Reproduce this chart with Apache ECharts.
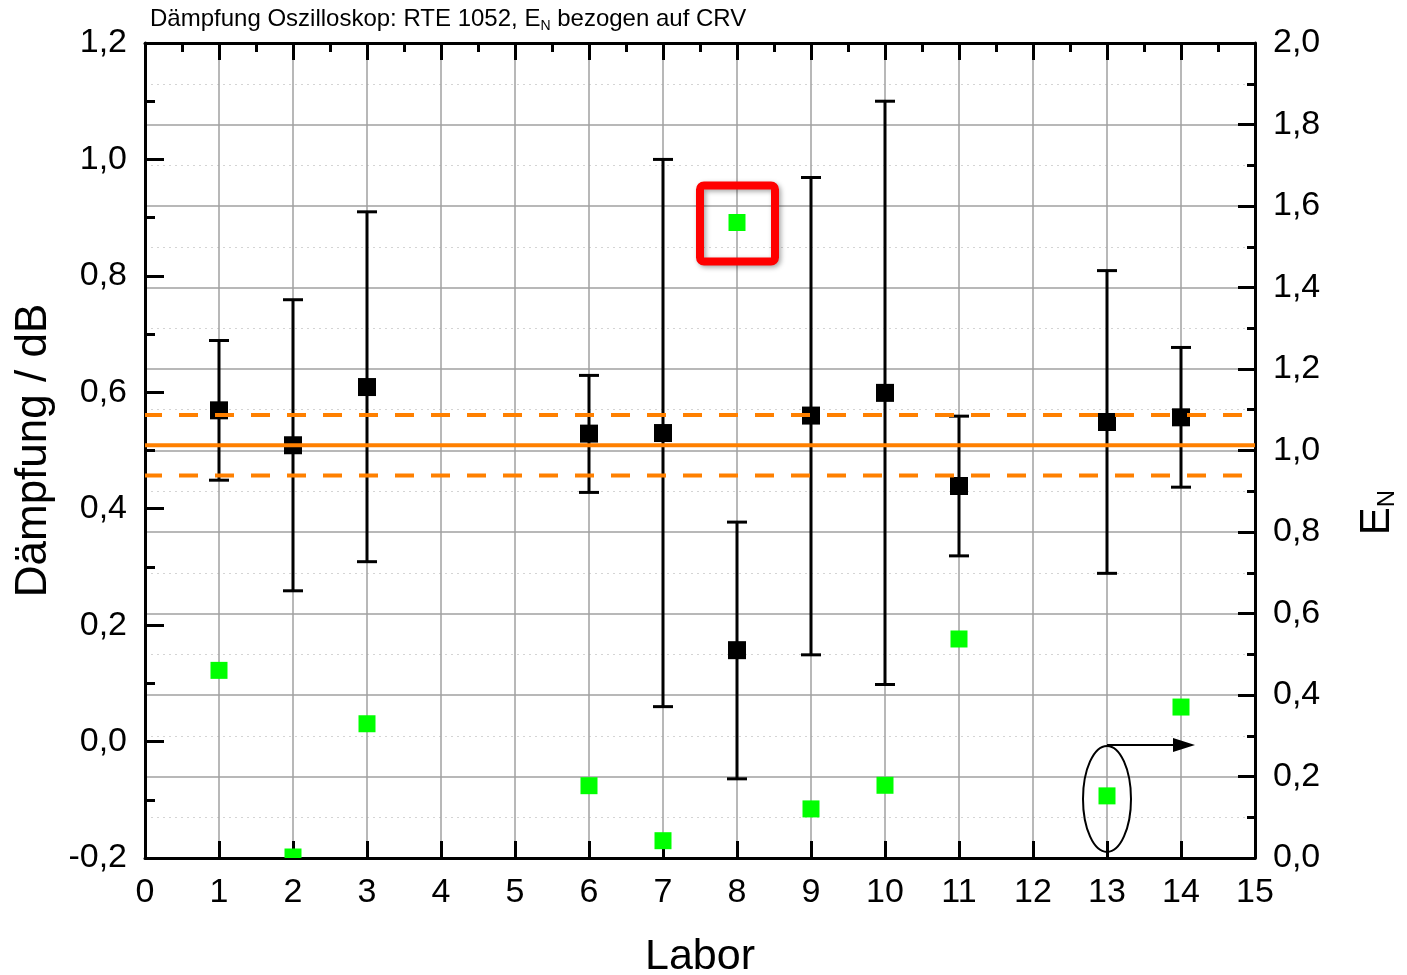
<!DOCTYPE html>
<html>
<head>
<meta charset="utf-8">
<script src="https://cdn.jsdelivr.net/npm/echarts@6/dist/echarts.min.js"></script>
<style>
    html, body { margin: 0; padding: 0; background: #fff; }
    #chart { width: 1407px; height: 975px; }
</style>
</head>
<body>
<div id="chart"></div>
<script>
    // Labore und Messwerte (Dämpfung in dB, linke Achse)
    const labs = [1, 2, 3, 6, 7, 8, 9, 10, 11, 13, 14];
    const daempfung = [0.569, 0.509, 0.609, 0.529, 0.53, 0.157, 0.56, 0.599, 0.439, 0.549, 0.557];
    const errLow = [0.449, 0.259, 0.309, 0.428, 0.06, -0.064, 0.149, 0.098, 0.319, 0.289, 0.437];
    const errHigh = [0.689, 0.759, 0.91, 0.629, 1.0, 0.377, 0.969, 1.10, 0.559, 0.809, 0.677];
    // E_N Werte (rechte Achse)
    const enValues = [0.458, 0.0, 0.327, 0.175, 0.04, 1.557, 0.118, 0.176, 0.535, 0.15, 0.368];
    // Referenzwert CRV und Unsicherheit
    const refValue = 0.509;
    const refLow = 0.457;
    const refHigh = 0.561;
    const refX = [0, 15];
    const xTicks = [0, 15, 1];
    const leftTicks = [-0.2, 1.2, 0.2];
    const rightTicks = [0, 2.0, 0.2];

    const FONT = 'Liberation Sans, Arial, sans-serif';
    const fmt = function (v) { return v.toFixed(1).replace('.', ','); };

    const chart = echarts.init(document.getElementById('chart'), null, { renderer: 'canvas' });

    const pointData = labs.map(function (l, i) { return [l, daempfung[i]]; });
    const errData = labs.map(function (l, i) { return [l, errLow[i], errHigh[i]]; });
    const enData = labs.map(function (l, i) { return [l, enValues[i]]; });

    const option = {
        backgroundColor: '#fff',
        animation: false,
        title: {
            text: 'Dämpfung Oszilloskop: RTE 1052, E{sub|N} bezogen auf CRV',
            left: 150,
            top: 5,
            padding: 0,
            textStyle: {
                fontFamily: FONT,
                fontSize: 24,
                fontWeight: 'normal',
                color: '#000',
                lineHeight: 28,
                rich: {
                    sub: { fontFamily: FONT, fontSize: 14, color: '#000', lineHeight: 15, verticalAlign: 'bottom' }
                }
            }
        },
        grid: {
            left: 145,
            right: 152,
            top: 43,
            bottom: 117,
            outerBoundsMode: 'none'
        },
        xAxis: [
            {
                type: 'value',
                position: 'bottom',
                min: xTicks[0],
                max: xTicks[1],
                interval: xTicks[2],
                name: 'Labor',
                nameLocation: 'middle',
                nameGap: 78,
                nameTextStyle: { fontFamily: FONT, fontSize: 43, color: '#000' },
                axisLine: { show: true, onZero: false, lineStyle: { color: '#000', width: 3 } },
                axisTick: { show: true, inside: true, length: 17, lineStyle: { color: '#000', width: 3 } },
                axisLabel: { show: true, margin: 18, fontFamily: FONT, fontSize: 34, color: '#000', formatter: function (v) { return String(v); } },
                splitLine: { show: true, lineStyle: { color: '#a0a0a0', width: 1.5 } }
            },
            {
                type: 'value',
                position: 'top',
                min: xTicks[0],
                max: xTicks[1],
                interval: xTicks[2],
                axisLine: { show: true, onZero: false, lineStyle: { color: '#000', width: 3 } },
                axisTick: { show: true, inside: true, length: 17, lineStyle: { color: '#000', width: 3 } },
                minorTick: { show: true, splitNumber: 2, length: 9, lineStyle: { color: '#000', width: 3 } },
                axisLabel: { show: false },
                splitLine: { show: false }
            }
        ],
        yAxis: [
            {
                type: 'value',
                position: 'left',
                min: leftTicks[0],
                max: leftTicks[1],
                interval: leftTicks[2],
                name: 'Dämpfung / dB',
                nameLocation: 'middle',
                nameRotate: 90,
                nameGap: 89,
                nameTextStyle: { fontFamily: FONT, fontSize: 44, color: '#000' },
                axisLine: { show: true, onZero: false, lineStyle: { color: '#000', width: 3 } },
                axisTick: { show: true, inside: true, length: 19, lineStyle: { color: '#000', width: 3 } },
                minorTick: { show: true, splitNumber: 2, length: 10, lineStyle: { color: '#000', width: 3 } },
                axisLabel: { show: true, margin: 18, fontFamily: FONT, fontSize: 34, color: '#000', formatter: fmt },
                splitLine: { show: false }
            },
            {
                type: 'value',
                position: 'right',
                min: rightTicks[0],
                max: rightTicks[1],
                interval: rightTicks[2],
                name: '{e|E}{n|N}',
                nameLocation: 'middle',
                nameRotate: 90,
                nameGap: 100,
                nameTextStyle: {
                    fontFamily: FONT,
                    fontSize: 42,
                    color: '#000',
                    padding: [0, 124, 0, 0],
                    rich: {
                        e: { fontFamily: FONT, fontSize: 42, color: '#000', lineHeight: 44 },
                        n: { fontFamily: FONT, fontSize: 24, color: '#000', lineHeight: 24, verticalAlign: 'bottom' }
                    }
                },
                axisLine: { show: true, onZero: false, lineStyle: { color: '#000', width: 3 } },
                axisTick: { show: true, inside: true, length: 17, lineStyle: { color: '#000', width: 3 } },
                minorTick: { show: true, splitNumber: 2, length: 8, lineStyle: { color: '#000', width: 3 } },
                axisLabel: { show: true, margin: 18, fontFamily: FONT, fontSize: 34, color: '#000', formatter: fmt },
                splitLine: { show: true, lineStyle: { color: '#a0a0a0', width: 1.5 } },
                minorSplitLine: { show: true, lineStyle: { color: '#d4d4d4', width: 1, type: [2, 4] } }
            }
        ],
        series: [
            {
                name: 'Fehlerbalken',
                type: 'custom',
                xAxisIndex: 0,
                yAxisIndex: 0,
                z: 3,
                encode: { x: 0, y: [1, 2] },
                data: errData,
                renderItem: function (params, api) {
                    const x = api.value(0);
                    const top = api.coord([x, api.value(2)]);
                    const bottom = api.coord([x, api.value(1)]);
                    const half = 10;
                    const style = { stroke: '#000', lineWidth: 3, fill: null };
                    return {
                        type: 'group',
                        children: [
                            { type: 'line', shape: { x1: top[0], y1: top[1], x2: bottom[0], y2: bottom[1] }, style: style },
                            { type: 'line', shape: { x1: top[0] - half, y1: top[1], x2: top[0] + half, y2: top[1] }, style: style },
                            { type: 'line', shape: { x1: bottom[0] - half, y1: bottom[1], x2: bottom[0] + half, y2: bottom[1] }, style: style }
                        ]
                    };
                }
            },
            {
                name: 'Dämpfung',
                type: 'scatter',
                xAxisIndex: 0,
                yAxisIndex: 0,
                z: 3,
                symbol: 'rect',
                symbolSize: 18,
                itemStyle: { color: '#000', opacity: 1 },
                data: pointData
            },
            {
                name: 'Referenz',
                type: 'line',
                xAxisIndex: 0,
                yAxisIndex: 0,
                z: 4,
                symbol: 'none',
                lineStyle: { color: '#ff8000', width: 4 },
                data: refX.map(function (x) { return [x, refValue]; })
            },
            {
                name: 'Referenz oben',
                type: 'line',
                xAxisIndex: 0,
                yAxisIndex: 0,
                z: 4,
                symbol: 'none',
                lineStyle: { color: '#ff8000', width: 4, type: [19, 17], dashOffset: 2 },
                data: refX.map(function (x) { return [x, refHigh]; })
            },
            {
                name: 'Referenz unten',
                type: 'line',
                xAxisIndex: 0,
                yAxisIndex: 0,
                z: 4,
                symbol: 'none',
                lineStyle: { color: '#ff8000', width: 4, type: [19, 17], dashOffset: 2 },
                data: refX.map(function (x) { return [x, refLow]; })
            },
            {
                name: 'E_N',
                type: 'custom',
                xAxisIndex: 0,
                yAxisIndex: 1,
                z: 5,
                encode: { x: 0, y: 1 },
                data: enData,
                renderItem: function (params, api) {
                    const p = api.coord([api.value(0), api.value(1)]);
                    const s = 17;
                    const cs = params.coordSys;
                    const shape = echarts.graphic.clipRectByRect(
                        { x: p[0] - s / 2, y: p[1] - s / 2 - 1, width: s, height: s },
                        { x: cs.x, y: cs.y, width: cs.width, height: cs.height }
                    );
                    return shape && { type: 'rect', shape: shape, style: { fill: '#00ff00' } };
                }
            }
        ]
    };

    chart.setOption(option);

    // Markierungen: rotes Rechteck um Labor 8, Ellipse mit Pfeil um Labor 13
    const i8 = labs.indexOf(8);
    const i13 = labs.indexOf(13);
    const p8 = chart.convertToPixel({ xAxisIndex: 0, yAxisIndex: 1 }, [labs[i8], enValues[i8]]);
    const p13 = chart.convertToPixel({ xAxisIndex: 0, yAxisIndex: 1 }, [labs[i13], enValues[i13]]);
    const ay = p13[1] - 52;

    chart.setOption({
        graphic: [
            {
                type: 'rect',
                z: 10,
                shape: { x: p8[0] - 37, y: p8[1] - 38, width: 75, height: 76, r: 4 },
                style: {
                    fill: null, stroke: '#ff0000', lineWidth: 8,
                    shadowBlur: 5, shadowColor: 'rgba(0,0,0,0.35)', shadowOffsetX: 2, shadowOffsetY: 2
                }
            },
            {
                type: 'ellipse',
                z: 10,
                shape: { cx: p13[0], cy: p13[1] + 2, rx: 24, ry: 53 },
                style: { fill: null, stroke: '#000', lineWidth: 2 }
            },
            {
                type: 'line',
                z: 10,
                shape: { x1: p13[0], y1: ay, x2: p13[0] + 70, y2: ay },
                style: { stroke: '#000', lineWidth: 2 }
            },
            {
                type: 'polygon',
                z: 10,
                shape: { points: [[p13[0] + 66, ay - 7], [p13[0] + 88, ay], [p13[0] + 66, ay + 7]] },
                style: { fill: '#000' }
            }
        ]
    });
</script>
</body>
</html>
